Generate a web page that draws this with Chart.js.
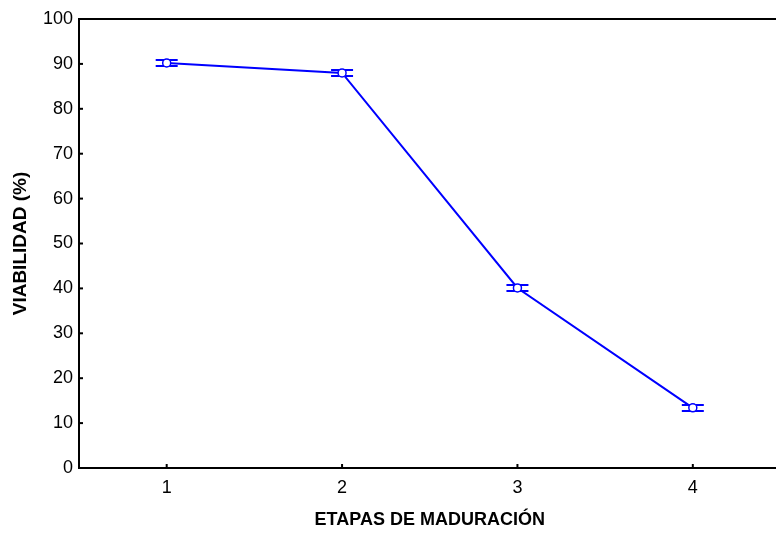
<!DOCTYPE html>
<html>
<head>
<meta charset="utf-8">
<script src="https://cdn.jsdelivr.net/npm/chart.js@4/dist/chart.umd.min.js"></script>
<style>
  html, body { margin: 0; padding: 0; background: #fff; overflow: hidden; }
</style>
</head>
<body>
<canvas id="chart" width="786" height="534"></canvas>
<script>
// etapas de maduración y viabilidad media (%) con su error
const etapas = [1, 2, 3, 4];
const viabilidad = [90.2, 88.0, 40.1, 13.4];
const errores = [0.6, 0.6, 0.6, 0.6];
const yTicks = [0, 10, 20, 30, 40, 50, 60, 70, 80, 90, 100];

const azul = '#0000ff';

// barras de error: dos líneas horizontales (media +/- error)
const errorCaps = {
  id: 'errorCaps',
  beforeDatasetsDraw(chart) {
    const { ctx, scales: { x, y } } = chart;
    ctx.save();
    ctx.strokeStyle = azul;
    ctx.lineWidth = 2;
    etapas.forEach((e, i) => {
      const px = x.getPixelForValue(e);
      [viabilidad[i] + errores[i], viabilidad[i] - errores[i]].forEach(v => {
        const py = Math.round(y.getPixelForValue(v));
        ctx.beginPath();
        ctx.moveTo(px - 11, py);
        ctx.lineTo(px + 11, py);
        ctx.stroke();
      });
    });
    ctx.restore();
  }
};

// marco superior y marcas hacia dentro
const frame = {
  id: 'frame',
  afterDraw(chart) {
    const { ctx, chartArea: a, scales: { x, y } } = chart;
    ctx.save();
    ctx.strokeStyle = '#000';
    ctx.lineWidth = 2;
    ctx.beginPath();
    ctx.moveTo(a.left - 1, a.top);
    ctx.lineTo(a.right + 2, a.top);
    ctx.stroke();
    yTicks.forEach(v => {
      const py = y.getPixelForValue(v);
      ctx.beginPath();
      ctx.moveTo(a.left, py);
      ctx.lineTo(a.left + 4, py);
      ctx.stroke();
    });
    etapas.forEach(e => {
      const px = x.getPixelForValue(e);
      ctx.beginPath();
      ctx.moveTo(px, a.bottom);
      ctx.lineTo(px, a.bottom - 4);
      ctx.stroke();
    });
    ctx.restore();
  }
};

new Chart(document.getElementById('chart'), {
  type: 'line',
  data: {
    datasets: [{
      data: etapas.map((e, i) => ({ x: e, y: viabilidad[i] })),
      borderColor: azul,
      borderWidth: 2,
      pointRadius: 4,
      pointBackgroundColor: '#fff',
      pointBorderColor: azul,
      pointBorderWidth: 1.5,
      tension: 0
    }]
  },
  options: {
    responsive: false,
    animation: false,
    layout: { padding: { top: 19, right: 0, left: 0, bottom: 0 } },
    plugins: { legend: { display: false }, tooltip: { enabled: false } },
    scales: {
      x: {
        type: 'linear',
        min: 0.5,
        max: 4.5,
        afterBuildTicks: s => { s.ticks = etapas.map(v => ({ value: v })); },
        afterFit: s => { s.height = 66; },
        grid: { display: false, drawTicks: false },
        border: { color: '#000', width: 2 },
        ticks: { color: '#000', padding: 9, font: { family: 'Liberation Sans, Arial', size: 18 } },
        title: {
          display: true,
          text: 'ETAPAS DE MADURACIÓN',
          color: '#000',
          font: { family: 'Liberation Sans, Arial', size: 18, weight: 'bold' },
          padding: { top: 0, bottom: 3 }
        }
      },
      y: {
        min: 0,
        max: 100,
        afterBuildTicks: s => { s.ticks = yTicks.map(v => ({ value: v })); },
        afterFit: s => { s.width = 79; },
        grid: { display: false, drawTicks: false },
        border: { color: '#000', width: 2 },
        ticks: { color: '#000', padding: 6, font: { family: 'Liberation Sans, Arial', size: 18 } },
        title: {
          display: true,
          text: 'VIABILIDAD (%)',
          color: '#000',
          font: { family: 'Liberation Sans, Arial', size: 19, weight: 'bold' },
          padding: { top: 9, bottom: 0 }
        }
      }
    }
  },
  plugins: [errorCaps, frame]
});
</script>
</body>
</html>
